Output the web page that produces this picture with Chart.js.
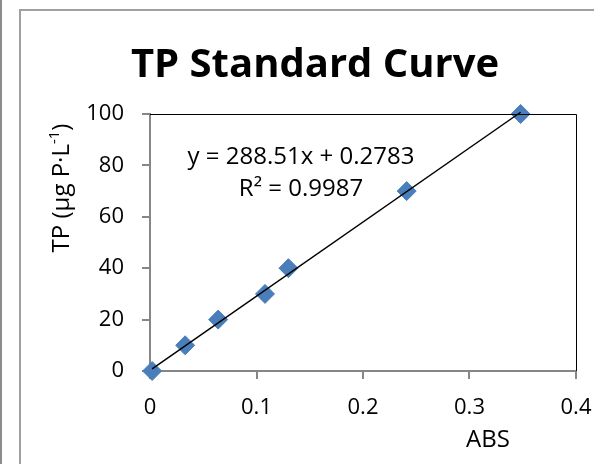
<!DOCTYPE html>
<html>
<head>
<meta charset="utf-8">
<script src="https://cdn.jsdelivr.net/npm/chart.js@4/dist/chart.umd.min.js"></script>
<style>
  html, body { margin: 0; padding: 0; background: #fff; }
  #wrap { position: relative; width: 594px; height: 464px; }
</style>
</head>
<body>
<div id="wrap"><canvas id="c" width="594" height="464"></canvas></div>
<script>
// ---- data ----
const absValues = [0.002, 0.033, 0.064, 0.108, 0.130, 0.241, 0.348];
const tpValues  = [0, 10, 20, 30, 40, 70, 100];
const xTicks = [0, 0.1, 0.2, 0.3, 0.4];
const yTicks = [0, 20, 40, 60, 80, 100];
const trendSlope = 288.51;
const trendIntercept = 0.2783;
const rSquared = 0.9987;
const chartTitle = 'TP Standard Curve';
const xTitle = 'ABS';
const yTitleMain = 'TP (µg P·L';
const yTitleSup = '-1';
const yTitleEnd = ')';

const points = absValues.map((x, i) => ({ x: x, y: tpValues[i] }));
const xMin = Math.min(...absValues), xMax = Math.max(...absValues);
const trend = [xMin, xMax].map(x => ({ x: x, y: trendSlope * x + trendIntercept }));

const FONT = "'Open Sans', 'DejaVu Sans', sans-serif";
Chart.defaults.font.family = FONT;
Chart.defaults.color = '#000';

const decor = {
  id: 'decor',
  beforeDraw(chart) {
    const ctx = chart.ctx;
    ctx.save();
    ctx.fillStyle = '#fff';
    ctx.fillRect(0, 0, chart.width, chart.height);
    ctx.fillStyle = '#8c8c8c';
    ctx.fillRect(0, 0, 2, chart.height);
    ctx.fillStyle = '#a0a0a0';
    ctx.fillRect(19, 9, 2, chart.height - 9);
    ctx.fillRect(19, 9, chart.width - 19, 2);
    ctx.restore();
  },
  afterDraw(chart) {
    const ctx = chart.ctx;
    const a = chart.chartArea;
    ctx.save();
    ctx.strokeStyle = '#000';
    ctx.lineWidth = 1;
    ctx.beginPath();
    ctx.moveTo(a.left, a.top + 0.5);
    ctx.lineTo(a.right + 0.5, a.top + 0.5);
    ctx.lineTo(a.right + 0.5, a.bottom);
    ctx.stroke();
    ctx.fillStyle = '#000';
    ctx.font = "bold 40px " + FONT;
    ctx.textAlign = 'center';
    ctx.textBaseline = 'alphabetic';
    ctx.fillText(chartTitle, 315, 77);
    ctx.font = "24px " + FONT;
    ctx.fillText('y = ' + trendSlope.toFixed(2) + 'x + ' + trendIntercept.toFixed(4), 301, 164);
    ctx.fillText('R² = ' + rSquared.toFixed(4), 301, 196);
    ctx.font = "24px " + FONT;
    ctx.fillText(xTitle, 488, 447);
    ctx.translate(69, 188);
    ctx.rotate(-Math.PI / 2);
    ctx.font = "24px " + FONT;
    const w1 = ctx.measureText(yTitleMain).width;
    ctx.font = "15px " + FONT;
    const w2 = ctx.measureText(yTitleSup).width;
    ctx.font = "24px " + FONT;
    const w3 = ctx.measureText(yTitleEnd).width;
    let x0 = -(w1 + w2 + w3) / 2;
    ctx.textAlign = 'left';
    ctx.fillText(yTitleMain, x0, 0);
    ctx.font = "15px " + FONT;
    ctx.fillText(yTitleSup, x0 + w1, -10);
    ctx.font = "24px " + FONT;
    ctx.fillText(yTitleEnd, x0 + w1 + w2, 0);
    ctx.restore();
  }
};

new Chart(document.getElementById('c'), {
  type: 'scatter',
  data: {
    datasets: [
      {
        label: 'Linear (TP)',
        type: 'line',
        data: trend,
        borderColor: '#000',
        borderWidth: 1.5,
        pointRadius: 0,
        fill: false,
        order: 0,
        clip: false
      },
      {
        label: 'TP',
        data: points,
        pointStyle: 'rectRot',
        pointRadius: 9.5,
        pointBackgroundColor: '#4a7ebb',
        pointBorderColor: '#4a7ebb',
        pointBorderWidth: 1,
        order: 1,
        clip: false
      }
    ]
  },
  plugins: [decor],
  options: {
    responsive: false,
    animation: false,
    events: [],
    layout: { padding: { top: 114, right: 18, left: 0, bottom: 0 } },
    plugins: { legend: { display: false }, title: { display: false }, tooltip: { enabled: false } },
    scales: {
      x: {
        type: 'linear',
        min: 0, max: 0.4,
        afterBuildTicks: s => { s.ticks = xTicks.map(v => ({ value: v })); },
        afterFit: s => { s.height = 93; s.paddingRight = 0; s.paddingLeft = 0; },
        ticks: { font: { size: 22 }, padding: 16, color: '#000', maxRotation: 0,
                 callback: v => String(v) },
        grid: { drawOnChartArea: false, drawTicks: true, tickLength: 8, color: '#868686', lineWidth: 2 },
        border: { color: '#868686', width: 2 }
      },
      y: {
        type: 'linear',
        min: 0, max: 100,
        afterBuildTicks: s => { s.ticks = yTicks.map(v => ({ value: v })); },
        afterFit: s => { s.width = 150; s.paddingTop = 0; s.paddingBottom = 0; },
        ticks: { font: { size: 22 }, padding: 18, color: '#000' },
        grid: { drawOnChartArea: false, drawTicks: true, tickLength: 8, color: '#868686', lineWidth: 2 },
        border: { color: '#868686', width: 2 }
      }
    }
  }
});
</script>
</body>
</html>
